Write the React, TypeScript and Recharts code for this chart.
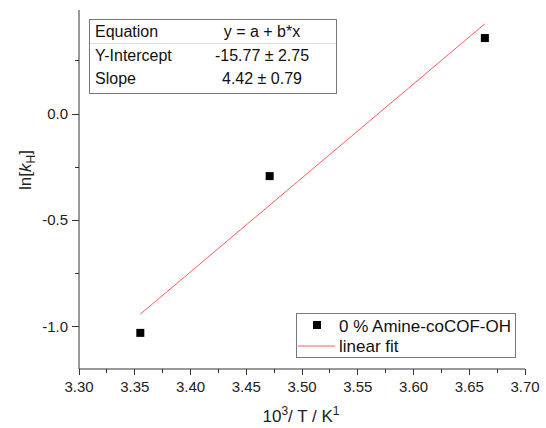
import { Legend, Scatter, ScatterChart, XAxis, YAxis } from "recharts";

// measured points: 10^3/T vs ln[kH]
const points = [
  { x: 3.355, y: -1.03 },
  { x: 3.471, y: -0.292 },
  { x: 3.664, y: 0.358 },
];

// ends of the linear fit
const fitLine = [
  { x: 3.355, y: -0.942 },
  { x: 3.664, y: 0.425 },
];

const xTicks = [
  3.3, 3.325, 3.35, 3.375, 3.4, 3.425, 3.45, 3.475, 3.5, 3.525, 3.55, 3.575,
  3.6, 3.625, 3.65, 3.675, 3.7,
];
const yTicks = [-1.0, -0.75, -0.5, -0.25, 0, 0.25];

const fitRows = [
  ["Equation", "y = a + b*x"],
  ["Y-Intercept", "-15.77 \u00b1 2.75"],
  ["Slope", "4.42 \u00b1 0.79"],
];

const FONT = '"Liberation Sans", Arial, sans-serif';
const AXIS = "#333";
const FIT = "#ff5a5a";

const isMajorX = (v: number) => Math.abs(v * 20 - Math.round(v * 20)) < 1e-6;
const isMajorY = (v: number) => Math.abs(v * 2 - Math.round(v * 2)) < 1e-6;

// ticks drawn by hand so minor ones can be shorter
const renderXTick = (props: any) => {
  const { x, y, payload, index } = props;
  const major = isMajorX(payload.value);
  const px = Number(x);
  const py = Number(y);
  return (
    <g key={`xt-${index}`}>
      <rect x={Math.floor(px)} y={py} width={1} height={major ? 6 : 4} fill={AXIS} />
      {major && (
        <text x={px} y={py + 23} textAnchor="middle" fontSize={15} fill="#222" fontFamily={FONT}>
          {payload.value.toFixed(2)}
        </text>
      )}
    </g>
  );
};

const renderYTick = (props: any) => {
  const { x, y, payload, index } = props;
  const major = isMajorY(payload.value);
  const len = major ? 7 : 4;
  const px = Number(x);
  const py = Number(y);
  return (
    <g key={`yt-${index}`}>
      <rect x={px - len} y={Math.floor(py)} width={len} height={1} fill={AXIS} />
      {major && (
        <text x={px - 11} y={py + 5} textAnchor="end" fontSize={15} fill="#222" fontFamily={FONT}>
          {payload.value.toFixed(1)}
        </text>
      )}
    </g>
  );
};

const Square = (props: any) => (
  <rect x={props.cx - 4} y={props.cy - 4} width={8} height={8} fill="#000" />
);

const NoDot = () => <g />;

const LegendBox = () => (
  <svg width={220} height={45} style={{ display: "block" }}>
    <rect x={0.5} y={0.5} width={219} height={44} fill="#fff" stroke="#777" />
    <rect x={17} y={8} width={8} height={8} fill="#000" />
    <text x={43} y={19} fontSize={17} fontFamily={FONT} fill="#111">
      0 % Amine-coCOF-OH
    </text>
    <line x1={2} x2={39} y1={33} y2={33} stroke={FIT} />
    <text x={43} y={39} fontSize={17} fontFamily={FONT} fill="#111">
      linear fit
    </text>
  </svg>
);

const FitTable = () => (
  <svg
    width={248}
    height={75}
    style={{ position: "absolute", left: 89, top: 19, display: "block" }}
  >
    <rect x={0.5} y={0.5} width={247} height={74} fill="#fff" stroke="#777" />
    <line x1={1} x2={247} y1={24.5} y2={24.5} stroke="#ddd" />
    {fitRows.map((r, i) => (
      <g key={r[0]}>
        <text x={6} y={18 + i * 23.5} fontSize={16} fontFamily={FONT} fill="#111">
          {r[0]}
        </text>
        <text x={173} y={18 + i * 23.5} fontSize={16} fontFamily={FONT} fill="#111" textAnchor="middle">
          {r[1]}
        </text>
      </g>
    ))}
  </svg>
);

const XLabel = () => (
  <text x={301} y={422} textAnchor="middle" fontSize={17} fontFamily={FONT} fill="#222">
    10<tspan dy={-7} fontSize={12}>3</tspan>
    <tspan dy={7}>/ T / K</tspan>
    <tspan dy={-7} fontSize={12}>1</tspan>
  </text>
);

const YLabel = () => (
  <text x={31} y={170} transform="rotate(-90 31 170)" textAnchor="middle" fontSize={17} fontFamily={FONT} fill="#222">
    ln[<tspan fontStyle="italic">k</tspan>
    <tspan dy={4} fontSize={12}>H</tspan>
    <tspan dy={-4}>]</tspan>
  </text>
);

export default function App() {
  return (
    <div style={{ position: "absolute", left: 0, top: 0, width: 546, height: 428, background: "#fff" }}>
      <ScatterChart width={546} height={428} margin={{ top: 10, right: 21, bottom: 0, left: 0 }}>
        <XAxis
          type="number"
          dataKey="x"
          domain={[3.3, 3.7]}
          ticks={xTicks}
          interval={0}
          height={59}
          tickSize={0}
          tickMargin={0}
          tickLine={false}
          tick={renderXTick}
          stroke={AXIS}
          label={<XLabel />}
        />
        <XAxis xAxisId="top" orientation="top" type="number" domain={[3.3, 3.7]} height={0} tick={false} tickLine={false} stroke={AXIS} />
        <YAxis
          type="number"
          dataKey="y"
          domain={[-1.2, 0.49]}
          ticks={yTicks}
          interval={0}
          width={79}
          tickSize={0}
          tickMargin={0}
          tickLine={false}
          tick={renderYTick}
          stroke={AXIS}
          allowDataOverflow
          label={<YLabel />}
        />
        <YAxis yAxisId="right" orientation="right" type="number" domain={[-1.2, 0.49]} width={0} tick={false} tickLine={false} stroke={AXIS} />
        <Scatter
          data={fitLine}
          line={{ stroke: FIT, strokeWidth: 1 }}
          shape={<NoDot />}
          isAnimationActive={false}
        />
        <Scatter data={points} shape={<Square />} isAnimationActive={false} />
        <Legend
          layout="vertical"
          align="center"
          verticalAlign="middle"
          content={<LegendBox />}
          wrapperStyle={{ position: "absolute", left: 296, top: 313, width: 220, height: 45 }}
        />
      </ScatterChart>
      <FitTable />
    </div>
  );
}
